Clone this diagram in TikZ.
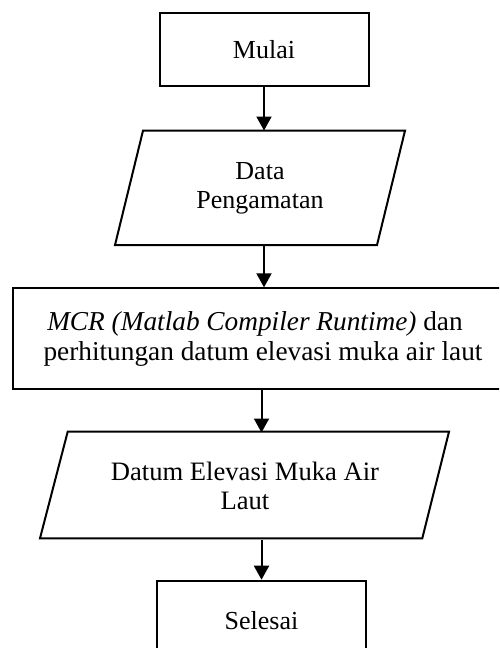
\documentclass[tikz,border=0pt]{standalone}
\usepackage{fontspec}
\setmainfont{Liberation Serif}
\usetikzlibrary{arrows.meta}
\begin{document}
\begin{tikzpicture}[x=1pt,y=-1pt,
  box/.style={draw, line width=2pt, inner sep=0pt, align=center, font=\fontsize{26}{29}\selectfont},
  txt/.style={inner sep=0pt, align=center, font=\fontsize{26}{29}\selectfont},
  shape line/.style={line width=2pt, line join=miter},
  arr/.style={line width=2pt, -{Triangle[width=15pt,length=14pt]}}]
\useasboundingbox (0,0) rectangle (499,648);
\clip (0,0) rectangle (499,648);
% Mulai
\node[box, minimum width=209pt, minimum height=73pt] (mulai) at (264,49.5) {Mulai};
% Data Pengamatan
\draw[shape line] (143,130.7) -- (405,130.7) -- (377,245) -- (115,245) -- cycle;
\node[txt, minimum height=114.3pt] (data) at (260,187.85) {Data\\Pengamatan};
% MCR
\node[box, minimum width=500pt, minimum height=101pt, font=\fontsize{27.3}{30}\selectfont] (mcr) at (263,338.8)
  {{\itshape MCR (Matlab Compiler Runtime)} dan\hspace*{16pt}\\perhitungan datum elevasi muka air laut};
% Datum Elevasi
\draw[shape line] (67.7,431.7) -- (449,431.7) -- (422.3,538.3) -- (40,538.3) -- cycle;
\node[txt, minimum height=106.6pt, font=\fontsize{26.6}{29.5}\selectfont] (datum) at (245,486) {Datum Elevasi Muka Air\\Laut};
% Selesai
\node[box, minimum width=209pt, minimum height=79.3pt] (selesai) at (261.5,620.35) {Selesai};
% connectors
\draw[arr] (mulai.south) -- (mulai.south |- data.north);
\draw[arr] (mulai.south |- data.south) -- (mulai.south |- mcr.north);
\draw[arr] (selesai.north |- mcr.south) -- (selesai.north |- datum.north);
\draw[arr] (selesai.north |- datum.south) -- (selesai.north);
\end{tikzpicture}
\end{document}
